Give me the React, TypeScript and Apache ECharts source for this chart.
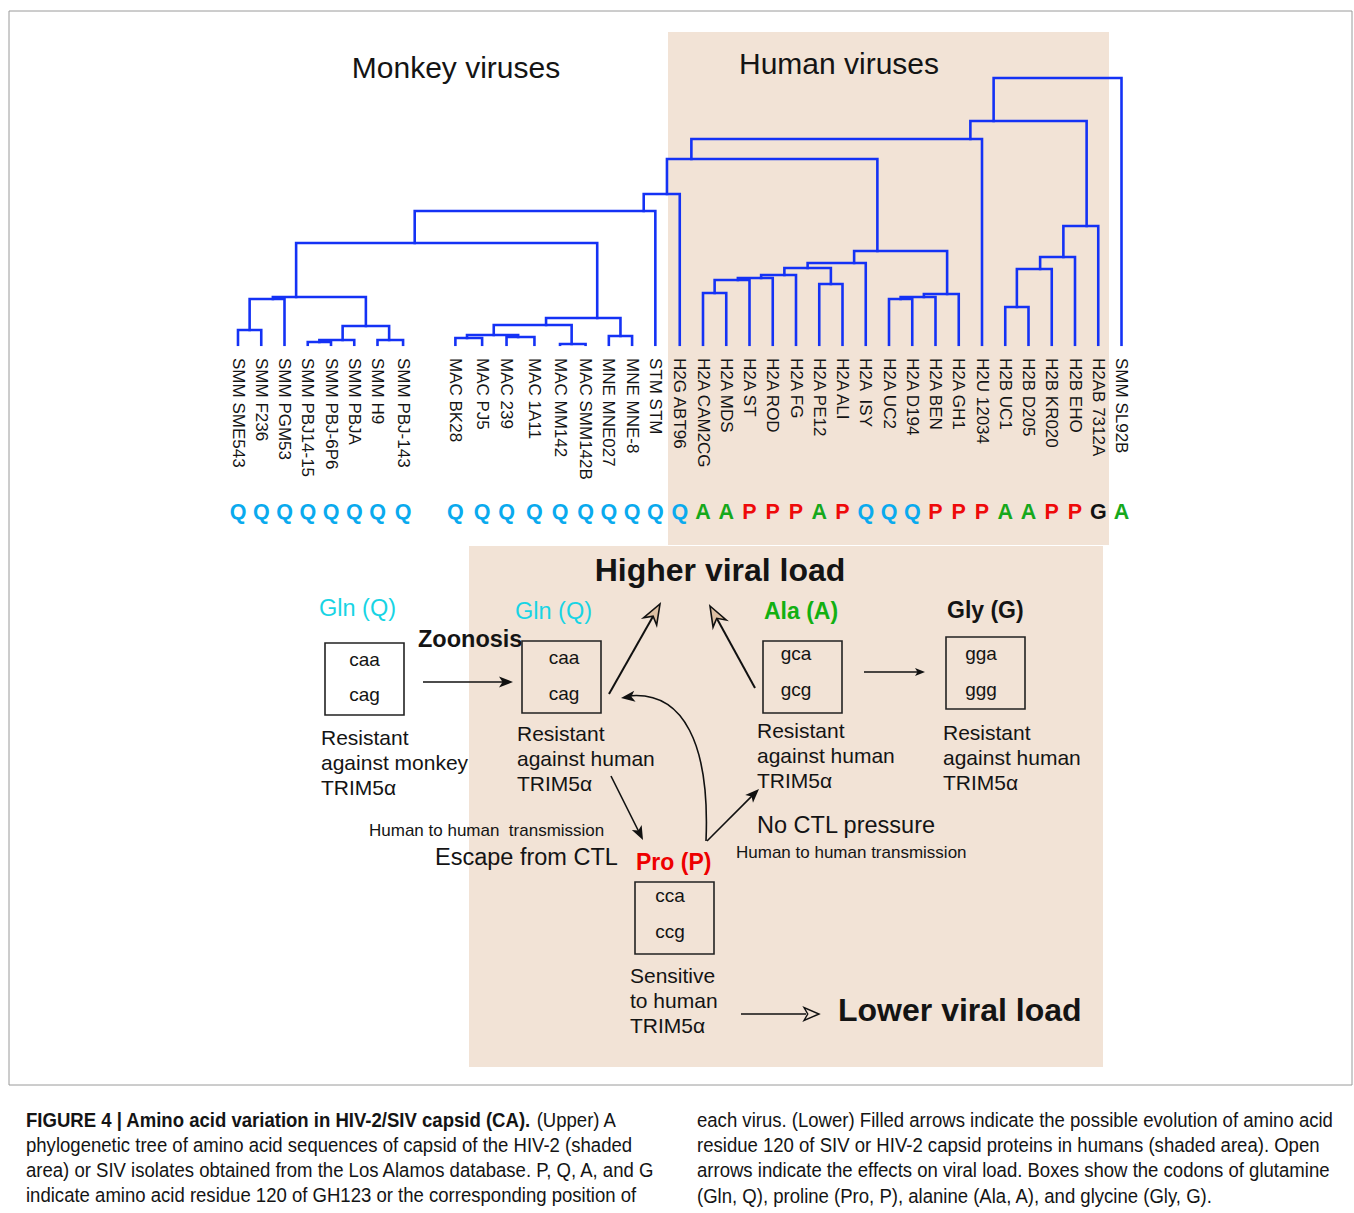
import React, { useEffect, useRef } from "react";
import * as echarts from "echarts";

const FONT = "'Liberation Sans', Arial, Helvetica, sans-serif";

// ---------- DATA ----------
const leafNames = [
  "SMM SME543", "SMM F236", "SMM PGM53", "SMM PBJ14-15", "SMM PBJ-6P6", "SMM PBJA", "SMM H9", "SMM PBJ-143",
  "MAC BK28", "MAC PJ5", "MAC 239", "MAC 1A11", "MAC MM142", "MAC SMM142B", "MNE MNE027", "MNE MNE-8", "STM STM",
  "H2G ABT96", "H2A CAM2CG", "H2A MDS", "H2A ST", "H2A ROD", "H2A FG", "H2A PE12", "H2A ALI", "H2A  ISY",
  "H2A UC2", "H2A D194", "H2A BEN", "H2A GH1", "H2U 12034", "H2B UC1", "H2B D205", "H2B KR020", "H2B EHO",
  "H2AB 7312A", "SMM SL92B",
];
// leaf position along the tree (slot units)
const leafSlot = [
  0, 1, 2, 3, 4, 5, 6, 7.1,
  9.35, 10.5, 11.55, 12.75, 13.85, 14.95, 15.95, 16.95, 17.95,
  19, 20, 21, 22, 23, 24, 25, 26, 27, 28, 29, 30, 31, 32, 33, 34, 35, 36, 37, 38,
];
// amino acid residue 120
const residues = [
  "Q", "Q", "Q", "Q", "Q", "Q", "Q", "Q",
  "Q", "Q", "Q", "Q", "Q", "Q", "Q", "Q", "Q",
  "Q", "A", "A", "P", "P", "P", "A", "P", "Q", "Q", "Q", "P", "P", "P", "A", "A", "P", "P", "G", "A",
];
const cladeIds = [
  "s1", "s2", "s4", "s5", "s6", "s3", "smm", "m1", "m2", "m3", "mss", "m4", "mne", "mac", "mk", "mm", "n4",
  "a1", "a2", "a3", "a4", "a5", "a6", "a7", "b1", "b2", "b3", "hA", "n3", "n2", "c1", "c2", "c3", "hB", "n1", "root",
];
const cladeChildren = [
  ["SMM SME543", "SMM F236"], ["s1", "SMM PGM53"], ["SMM PBJ14-15", "SMM PBJ-6P6"], ["s4", "SMM PBJA"],
  ["SMM H9", "SMM PBJ-143"], ["s5", "s6"], ["s2", "s3"],
  ["MAC BK28", "MAC PJ5"], ["MAC 239", "MAC 1A11"], ["m1", "m2"], ["MAC MM142", "MAC SMM142B"], ["m3", "mss"],
  ["MNE MNE027", "MNE MNE-8"], ["m4", "mne"], ["smm", "mac"], ["mk", "STM STM"], ["mm", "H2G ABT96"],
  ["H2A CAM2CG", "H2A MDS"], ["a1", "H2A ST"], ["a2", "H2A ROD"], ["a3", "H2A FG"], ["H2A PE12", "H2A ALI"],
  ["a4", "a5"], ["a6", "H2A  ISY"], ["H2A UC2", "H2A D194"], ["b1", "H2A BEN"], ["b2", "H2A GH1"], ["a7", "b3"],
  ["n4", "hA"], ["n3", "H2U 12034"], ["H2B UC1", "H2B D205"], ["c1", "H2B KR020"], ["c2", "H2B EHO"],
  ["c3", "H2AB 7312A"], ["n2", "hB"], ["n1", "SMM SL92B"],
];
const cladeHeights = [
  0.015, 0.046, 0.003, 0.005, 0.005, 0.019, 0.048, 0.007, 0.008, 0.010, 0.001, 0.020, 0.009, 0.027, 0.102, 0.134, 0.151,
  0.052, 0.065, 0.067, 0.070, 0.061, 0.077, 0.082, 0.046, 0.048, 0.051, 0.094, 0.186, 0.206, 0.038, 0.076, 0.088, 0.119,
  0.224, 0.267,
];
const residueColors: Record<string, string> = { Q: "#0aaaee", A: "#16a81c", P: "#ee0a0a", G: "#111111" };

const captionLeft = [
  "phylogenetic tree of amino acid sequences of capsid of the HIV-2 (shaded",
  "area) or SIV isolates obtained from the Los Alamos database. P, Q, A, and G",
  "indicate amino acid residue 120 of GH123 or the corresponding position of",
];
const captionRight = [
  "each virus. (Lower) Filled arrows indicate the possible evolution of amino acid",
  "residue 120 of SIV or HIV-2 capsid proteins in humans (shaded area). Open",
  "arrows indicate the effects on viral load. Boxes show the codons of glutamine",
  "(Gln, Q), proline (Pro, P), alanine (Ala, A), and glycine (Gly, G).",
];

// ---------- TREE GEOMETRY (in data units) ----------
function buildTree() {
  const leafIdx: Record<string, number> = {};
  leafNames.forEach((n, i) => (leafIdx[n] = i));
  const cIdx: Record<string, number> = {};
  cladeIds.forEach((c, i) => (cIdx[c] = i));
  const range = (k: string): [number, number] => {
    if (k in leafIdx) return [leafSlot[leafIdx[k]], leafSlot[leafIdx[k]]];
    const [l, r] = cladeChildren[cIdx[k]];
    const a = range(l), b = range(r);
    return [Math.min(a[0], b[0]), Math.max(a[1], b[1])];
  };
  // a clade rises half a slot to the right of the last leaf of its left child
  const anchor = (k: string): number => {
    if (k in leafIdx) return leafSlot[leafIdx[k]];
    const [l, r] = cladeChildren[cIdx[k]];
    return Math.min(range(l)[1] + 0.5, range(r)[0]);
  };
  const height = (k: string): number => (k in leafIdx ? 0 : cladeHeights[cIdx[k]]);
  return cladeIds.map((c, i) => {
    const [l, r] = cladeChildren[i];
    const h = cladeHeights[i];
    return [
      [anchor(l), height(l)],
      [anchor(l), h],
      [anchor(r), h],
      [anchor(r), height(r)],
    ];
  });
}

// ---------- graphic helpers ----------
function txt(x: number, y: number, text: string, size: number, o: any = {}) {
  return {
    type: "text",
    x,
    y,
    silent: true,
    scaleX: o.scaleX || 1,
    style: {
      text,
      fontSize: size,
      fontFamily: FONT,
      fontWeight: o.bold ? "bold" : "normal",
      fill: o.fill || "#141414",
      align: o.align || "left",
      verticalAlign: "middle",
      rich: o.rich,
    },
  };
}
function headPts(x1: number, y1: number, x2: number, y2: number, len: number, hw: number, notch = 0) {
  const dx = x2 - x1, dy = y2 - y1;
  const L = Math.hypot(dx, dy);
  const ux = dx / L, uy = dy / L, px = -uy, py = ux;
  const bx = x2 - ux * len, by = y2 - uy * len;
  const nx = x2 - ux * len * (1 - notch), ny = y2 - uy * len * (1 - notch);
  return [
    [x2, y2],
    [bx + px * hw, by + py * hw],
    [nx, ny],
    [bx - px * hw, by - py * hw],
  ];
}
function filledArrow(x1: number, y1: number, x2: number, y2: number, len = 13, hw = 5, lw = 1.6) {
  const L = Math.hypot(x2 - x1, y2 - y1);
  const ex = x2 - ((x2 - x1) / L) * (len * 0.6), ey = y2 - ((y2 - y1) / L) * (len * 0.6);
  return [
    { type: "line", silent: true, shape: { x1, y1, x2: ex, y2: ey }, style: { stroke: "#111", lineWidth: lw } },
    { type: "polygon", silent: true, shape: { points: headPts(x1, y1, x2, y2, len, hw, 0.25) }, style: { fill: "#111" } },
  ];
}
function hollowArrow(x1: number, y1: number, x2: number, y2: number) {
  const len = 20, hw = 7.5;
  const L = Math.hypot(x2 - x1, y2 - y1);
  const ex = x2 - ((x2 - x1) / L) * (len * 0.7), ey = y2 - ((y2 - y1) / L) * (len * 0.7);
  return [
    { type: "line", silent: true, shape: { x1, y1, x2: ex, y2: ey }, style: { stroke: "#111", lineWidth: 2 } },
    {
      type: "polygon",
      silent: true,
      shape: { points: headPts(x1, y1, x2, y2, len, hw, 0.3) },
      style: { fill: "#dcbfa2", stroke: "#111", lineWidth: 1.6 },
    },
  ];
}
function box(x: number, y: number, w: number, h: number) {
  return { type: "rect", silent: true, shape: { x, y, width: w, height: h }, style: { fill: "none", stroke: "#222", lineWidth: 1.6 } };
}
function block(x: number, y: number, lines: string[]) {
  return lines.map((l, i) => txt(x, y + i * 25, l, 21));
}

function measureScale(text: string, size: number, target: number) {
  try {
    const c = document.createElement("canvas").getContext("2d");
    if (!c) return 1;
    c.font = `${size}px 'Liberation Sans', Arial, sans-serif`;
    const w = c.measureText(text).width;
    return w > 0 ? target / w : 1;
  } catch (e) {
    return 1;
  }
}

export default function App() {
  const ref = useRef<HTMLDivElement>(null);
  useEffect(() => {
    if (!ref.current) return;
    const chart = echarts.init(ref.current, undefined, { renderer: "svg" });
    const segs = buildTree();
    const shade = "#f2e3d6";
    const capSize = 19.5;
    const capScale = measureScale(captionLeft[0], capSize, 607);
    const glnStyle = { fill: "#18d4e4" };

    const elements: any[] = [
      { type: "rect", silent: true, shape: { x: 9, y: 11, width: 1343, height: 1074 }, style: { fill: "none", stroke: "#9a9a9a", lineWidth: 1 } },
      { type: "rect", silent: true, shape: { x: 668, y: 32, width: 441, height: 513 }, style: { fill: shade } },
      { type: "rect", silent: true, shape: { x: 469, y: 546, width: 634, height: 521 }, style: { fill: shade } },
      txt(456, 67, "Monkey viruses", 30, { align: "center" }),
      txt(839, 63, "Human viruses", 30, { align: "center" }),
      txt(720, 570, "Higher viral load", 32, { align: "center", bold: true }),
      txt(319, 608, "Gln (Q)", 23.5, glnStyle),
      txt(515, 611, "Gln (Q)", 23.5, glnStyle),
      txt(418, 639, "Zoonosis", 23.5, { bold: true }),
      txt(764, 611, "Ala (A)", 23, { bold: true, fill: "#12b012" }),
      txt(947, 610, "Gly (G)", 23, { bold: true }),
      txt(636, 862, "Pro (P)", 23, { bold: true, fill: "#ee0000" }),
      box(325, 643, 79, 72),
      txt(364.5, 659, "caa", 19, { align: "center" }),
      txt(364.5, 694, "cag", 19, { align: "center" }),
      box(522, 641, 79, 72),
      txt(564, 657, "caa", 19, { align: "center" }),
      txt(564, 693, "cag", 19, { align: "center" }),
      box(763, 641, 79, 72),
      txt(796, 653, "gca", 19, { align: "center" }),
      txt(796, 689, "gcg", 19, { align: "center" }),
      box(946, 637, 79, 72),
      txt(981, 653, "gga", 19, { align: "center" }),
      txt(981, 689, "ggg", 19, { align: "center" }),
      box(635, 882, 79, 72),
      txt(670, 895, "cca", 19, { align: "center" }),
      txt(670, 931, "ccg", 19, { align: "center" }),
      ...block(321, 737, ["Resistant", "against monkey", "TRIM5α"]),
      ...block(517, 733, ["Resistant", "against human", "TRIM5α"]),
      ...block(757, 730, ["Resistant", "against human", "TRIM5α"]),
      ...block(943, 732, ["Resistant", "against human", "TRIM5α"]),
      ...block(630, 975, ["Sensitive", "to human", "TRIM5α"]),
      txt(369, 830, "Human to human  transmission", 17),
      txt(435, 857, "Escape from CTL", 23.5),
      txt(757, 825, "No CTL pressure", 23.5),
      txt(736, 852, "Human to human transmission", 17),
      txt(838, 1010, "Lower viral load", 32, { bold: true }),
      ...filledArrow(423, 682, 513, 682, 14, 5.5),
      ...hollowArrow(609, 694, 660, 604),
      ...hollowArrow(755, 688, 710, 606),
      ...filledArrow(611, 776, 643, 840, 14, 5.5),
      ...filledArrow(707, 841, 759, 789, 14, 5.5),
      ...filledArrow(864, 672, 925, 672, 10, 4, 1.3),
      {
        type: "bezierCurve",
        silent: true,
        shape: { x1: 706, y1: 841, cpx1: 710, cpy1: 745, cpx2: 684, cpy2: 690, x2: 628, y2: 696 },
        style: { stroke: "#111", lineWidth: 1.6, fill: "none" },
      },
      { type: "polygon", silent: true, shape: { points: headPts(660, 693, 621, 698, 14, 5.5, 0.25) }, style: { fill: "#111" } },
      { type: "line", silent: true, shape: { x1: 741, y1: 1014, x2: 806, y2: 1014 }, style: { stroke: "#111", lineWidth: 1.6 } },
      {
        type: "polygon",
        silent: true,
        shape: { points: headPts(741, 1014, 819, 1014, 15, 6.5, 0.25) },
        style: { fill: shade, stroke: "#111", lineWidth: 1.4 },
      },
      txt(26, 1120, "{b|FIGURE 4 | Amino acid variation in HIV-2/SIV capsid (CA).}{n| (Upper) A}", capSize, {
        scaleX: capScale,
        rich: {
          b: { fontWeight: "bold", fontSize: capSize, fontFamily: FONT, fill: "#141414" },
          n: { fontSize: capSize, fontFamily: FONT, fill: "#141414" },
        },
      }),
      ...captionLeft.map((l, i) => txt(26, 1145 + i * 25.3, l, capSize, { scaleX: capScale })),
      ...captionRight.map((l, i) => txt(697, 1120 + i * 25.3, l, capSize, { scaleX: capScale })),
    ];

    chart.setOption({
      animation: false,
      backgroundColor: "#ffffff",
      grid: { left: 5.5, top: 45, width: 1162.5, height: 300 },
      xAxis: { type: "value", min: -10, max: 40, show: false },
      yAxis: { type: "value", min: 0, max: 0.3, show: false },
      graphic: { elements },
      series: [
        {
          type: "lines",
          coordinateSystem: "cartesian2d",
          polyline: true,
          silent: true,
          z: 5,
          lineStyle: { color: "#1432f5", width: 2.6, opacity: 1, cap: "square", join: "miter" },
          data: segs.map((c) => ({ coords: c })),
        },
        {
          type: "custom",
          coordinateSystem: "cartesian2d",
          silent: true,
          z: 6,
          data: leafNames.map((n, i) => [leafSlot[i], 0, i]),
          renderItem: (params: any, api: any) => {
            const i = api.value(2);
            const p = api.coord([api.value(0), api.value(1)]);
            return {
              type: "group",
              children: [
                {
                  type: "text",
                  x: p[0],
                  y: p[1] + 13,
                  rotation: -Math.PI / 2,
                  style: {
                    text: leafNames[i],
                    fontSize: 17,
                    fontFamily: FONT,
                    fill: "#141414",
                    align: "left",
                    verticalAlign: "middle",
                  },
                },
                {
                  type: "text",
                  x: p[0],
                  y: p[1] + 167,
                  style: {
                    text: residues[i],
                    fontSize: 21.5,
                    fontWeight: "bold",
                    fontFamily: FONT,
                    fill: residueColors[residues[i]],
                    align: "center",
                    verticalAlign: "middle",
                  },
                },
              ],
            };
          },
        },
      ],
    });
    return () => chart.dispose();
  }, []);
  return <div ref={ref} style={{ position: "fixed", left: 0, top: 0, width: 1354, height: 1213 }} />;
}
